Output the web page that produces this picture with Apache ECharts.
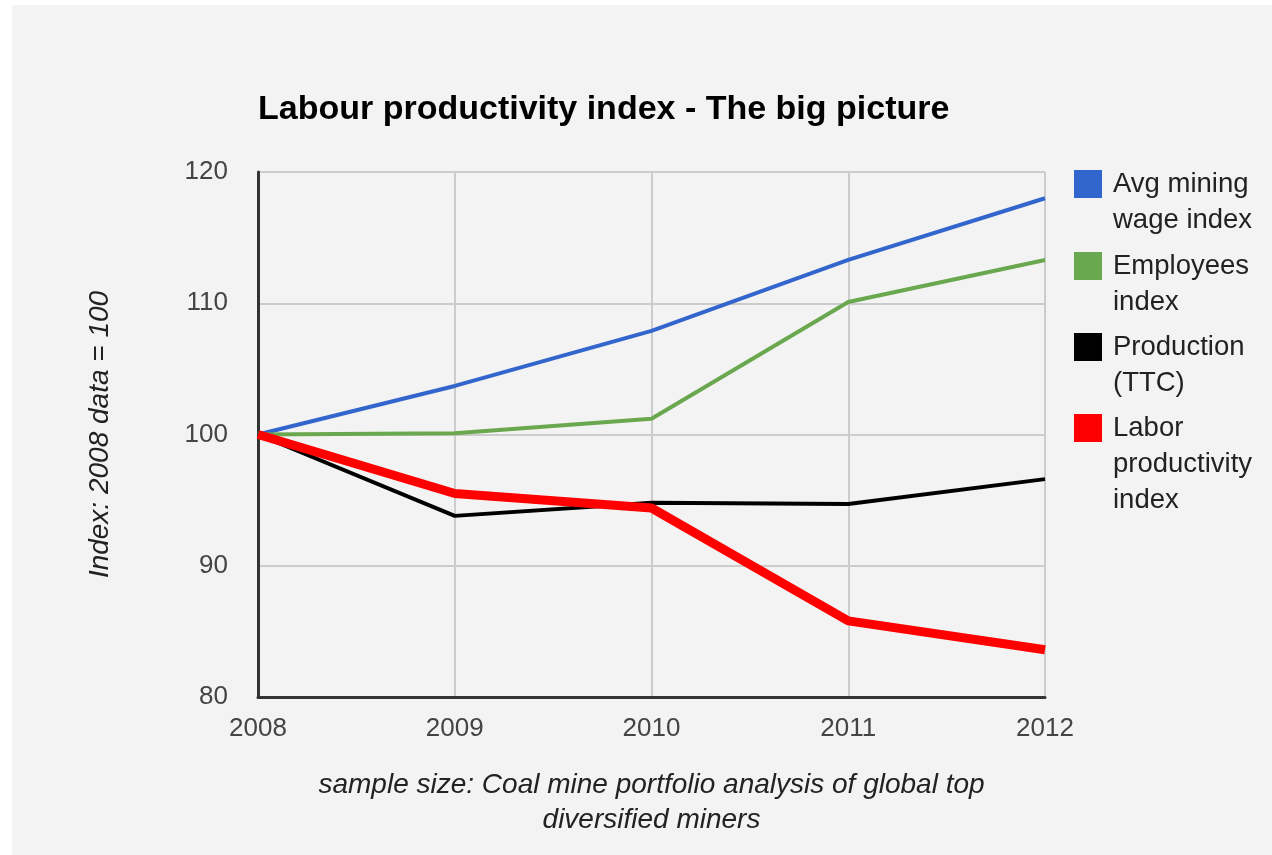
<!DOCTYPE html>
<html>
<head>
<meta charset="utf-8">
<script src="https://cdn.jsdelivr.net/npm/echarts@6/dist/echarts.min.js"></script>
<style>
  html, body { margin: 0; padding: 0; background: #fff; }
  #main { position: absolute; left: 12px; top: 5px; width: 1260px; height: 850px; background: #f3f3f3; }
</style>
</head>
<body>
<div id="main"></div>
<script>
// data
var years = ['2008', '2009', '2010', '2011', '2012']
var wageIdx = [100, 103.7, 107.9, 113.3, 118.0]
var employeesIdx = [100, 100.1, 101.2, 110.1, 113.3]
var productionIdx = [100, 93.8, 94.8, 94.7, 96.6]
var laborProdIdx = [100, 95.5, 94.4, 85.8, 83.6]

var names = ['Avg mining\nwage index', 'Employees\nindex', 'Production\n(TTC)', 'Labor\nproductivity\nindex']
var colors = ['#3366cc', '#6aa84f', '#000000', '#ff0000']
var iconTops = [170, 252, 333, 414]

var font = 'Liberation Sans, Arial, sans-serif'
var offX = 12, offY = 5
var lh = 36

// one legend per item; blank lines on top put the first text line level with the square
function makeLegend(i) {
  var n = names[i].split('\n').length
  var pad = new Array(n).join('\n')
  var total = 2 * n - 1
  return {
    data: [names[i]],
    orient: 'vertical',
    left: 1074 - offX,
    top: iconTops[i] + 14 - offY - total * lh / 2,
    padding: 0,
    icon: 'rect',
    itemWidth: 28,
    itemHeight: 28,
    selectedMode: false,
    formatter: function (name) { return pad + name.replace(/\n/g, '\n') },
    textStyle: {
      fontFamily: font,
      fontSize: 27.5,
      color: '#222',
      lineHeight: lh,
      padding: [0, 0, 0, 6]
    }
  }
}

var legends = [makeLegend(0), makeLegend(1), makeLegend(2), makeLegend(3)]

var chart = echarts.init(document.getElementById('main'))
var option = {
  backgroundColor: '#f3f3f3',
  animation: false,
  title: {
    text: 'Labour productivity index - The big picture',
    left: 258 - offX,
    top: 93 - offY,
    padding: 0,
    textStyle: { fontFamily: font, fontSize: 34, fontWeight: 'bold', color: '#000' }
  },
  legend: legends,
  grid: {
    left: 258 - offX,
    right: 1272 - 1045,
    top: 172 - offY,
    bottom: 855 - 697,
    containLabel: false
  },
  xAxis: {
    type: 'category',
    data: years,
    boundaryGap: false,
    name: 'sample size: Coal mine portfolio analysis of global top\ndiversified miners',
    nameLocation: 'middle',
    nameGap: 71,
    nameTextStyle: { fontFamily: font, fontSize: 28, fontStyle: 'italic', color: '#222', lineHeight: 35 },
    axisLine: { lineStyle: { color: '#333', width: 3 } },
    axisTick: { show: false },
    axisLabel: { fontFamily: font, fontSize: 26, color: '#444', margin: 19 },
    splitLine: { show: true, lineStyle: { color: '#ccc', width: 2 } }
  },
  yAxis: {
    type: 'value',
    min: 80,
    max: 120,
    interval: 10,
    name: 'Index: 2008 data = 100',
    nameLocation: 'middle',
    nameGap: 144,
    nameTextStyle: { fontFamily: font, fontSize: 28, fontStyle: 'italic', color: '#222' },
    axisLine: { show: true, lineStyle: { color: '#333', width: 3 } },
    axisTick: { show: false },
    axisLabel: { fontFamily: font, fontSize: 26, color: '#444', margin: 30 },
    splitLine: { show: true, lineStyle: { color: '#ccc', width: 2 } }
  },
  series: [
    { name: names[0], type: 'line', data: wageIdx, showSymbol: false, color: colors[0], lineStyle: { width: 4 } },
    { name: names[1], type: 'line', data: employeesIdx, showSymbol: false, color: colors[1], lineStyle: { width: 4 } },
    { name: names[2], type: 'line', data: productionIdx, showSymbol: false, color: colors[2], lineStyle: { width: 4 } },
    { name: names[3], type: 'line', data: laborProdIdx, showSymbol: false, color: colors[3], lineStyle: { width: 9 } }
  ]
}
chart.setOption(option)
</script>
</body>
</html>
